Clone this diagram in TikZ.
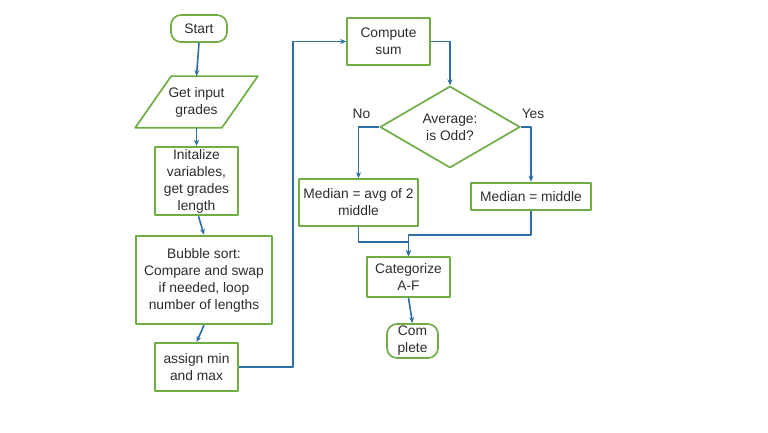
\documentclass[tikz,border=0pt]{standalone}
\usepackage{fontspec}
\setmainfont{Liberation Sans}
\usetikzlibrary{shapes.geometric,arrows.meta}
\definecolor{flowgreen}{RGB}{112,173,71}
\definecolor{flowblue}{RGB}{46,110,165}
\definecolor{flowtext}{RGB}{45,45,45}
\begin{document}
\begin{tikzpicture}
% Flowchart of the grade statistics program
\def\pxsz{1pt}
\providecommand{\flowBoxColor}{flowgreen}
\providecommand{\flowLineColor}{flowblue}
\providecommand{\flowBoxLineWidth}{1.7pt}
\providecommand{\flowLineWidth}{1.6pt}
\tikzset{
  box/.style={draw=\flowBoxColor, line width=\flowBoxLineWidth, fill=white, text=flowtext,
    align=center, inner sep=1pt, font=\fontsize{13.8}{17}\selectfont},
  thickbox/.style={box, line width=2.5pt},
  terminal/.style={box, rounded corners=10pt},
  iobox/.style={box, draw=none, fill=none},
  decision/.style={box, diamond, inner sep=0pt},
  flow/.style={draw=\flowLineColor, line width=\flowLineWidth, -{Stealth[length=6pt,width=5pt]}},
  answer/.style={text=flowtext, font=\fontsize{13.8}{17}\selectfont}
}
\begin{scope}[x=\pxsz, y=-\pxsz, line join=round]
  \useasboundingbox (0,0) rectangle (768,433);
  % Left column
  \node[terminal, minimum width=56, minimum height=27] (start) at (199,28.5) {Start};
  \node[iobox, minimum width=85, minimum height=50] (input) at (196.5,102) {Get input\\grades};
  \draw[draw=\flowBoxColor, line width=\flowBoxLineWidth]
    ([xshift=18]input.north west) -- ([xshift=18]input.north east)
    -- ([xshift=-18]input.south east) -- ([xshift=-18]input.south west) -- cycle;
  \node[thickbox, minimum width=83, minimum height=68] (init) at (196.5,181) {Initalize\\variables,\\get grades\\length};
  \node[thickbox, minimum width=136, minimum height=88] (sort) at (204,280) {Bubble sort:\\Compare and swap\\if needed, loop\\number of lengths};
  \node[box, minimum width=83, minimum height=48] (assign) at (196.5,367) {assign min\\and max};
  % Right column
  \node[box, minimum width=83, minimum height=47] (compute) at (388.5,41.5) {Compute\\sum};
  \node[decision, minimum width=140, minimum height=80] (check) at (450,127) {Average:\\is Odd?};
  \node[box, minimum width=119, minimum height=47] (avg) at (358.5,202.5) {Median = avg of 2\\middle};
  \node[thickbox, minimum width=120, minimum height=27] (mid) at (531,196.5) {Median = middle};
  \node[box, minimum width=83, minimum height=40] (cat) at (408.5,277) {Categorize\\A-F};
  \node[terminal, minimum width=51, minimum height=34] (done) at (412.5,341) {Com\\plete};
  % Connectors
  \draw[flow] (start.south) -- (input.north);
  \draw[flow] (input.south) -- (init.north);
  \draw[flow] ([xshift=2]init.south) -- (sort.north);
  \draw[flow] (sort.south) -- (assign.north);
  \draw[flow] (assign.east) -- ++(54,0) |- (compute.west);
  \draw[flow] (compute.east) -| (check.north);
  \draw[flow] (check.west) -| node[answer, pos=0.5, above=4pt, xshift=3pt] {No} (avg.north);
  \draw[flow] (check.east) -| node[answer, pos=0.5, above=4pt, xshift=2pt] {Yes} (mid.north);
  \draw[flow] (avg.south) -- ++(0,15) -| (cat.north);
  \draw[flow] (mid.south) -- ++(0,24) -| (cat.north);
  \draw[flow] (cat.south) -- (done.north);
\end{scope}
\end{tikzpicture}
\end{document}
